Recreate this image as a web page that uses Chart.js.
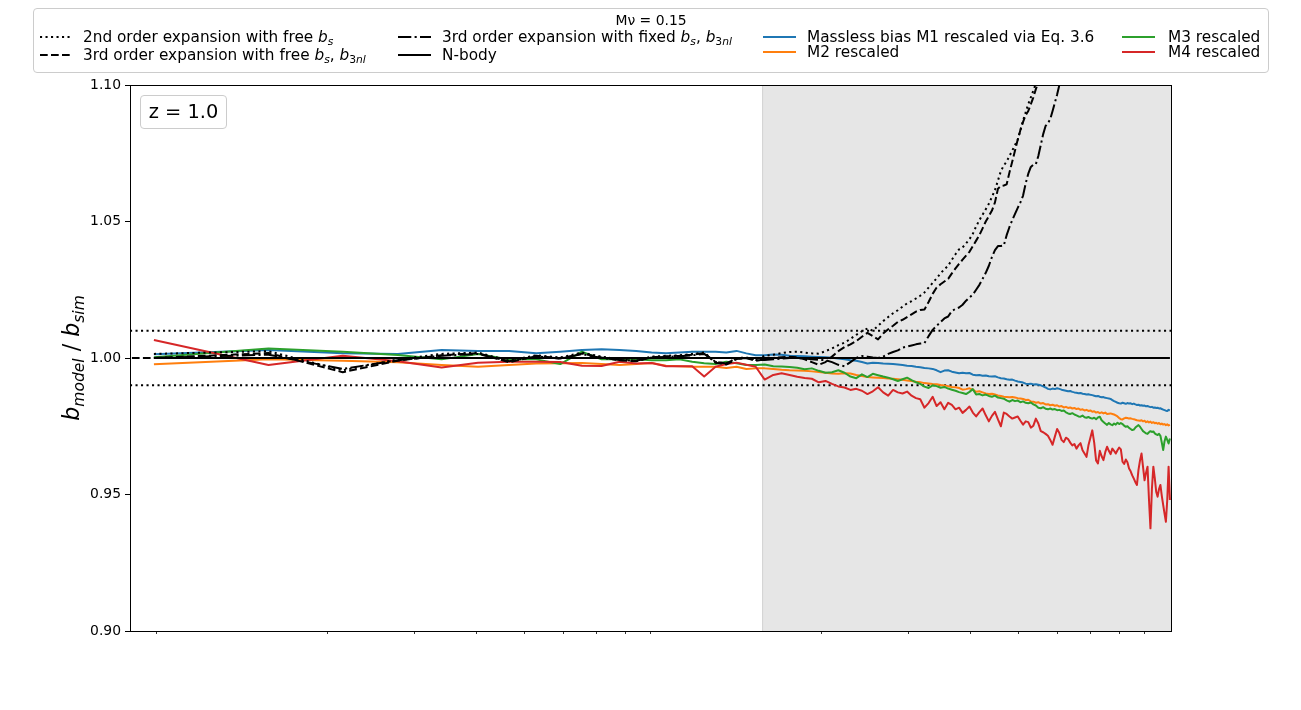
<!DOCTYPE html>
<html>
<head>
<meta charset="utf-8">
<script src="https://cdn.jsdelivr.net/npm/chart.js@4.4.1/dist/chart.umd.min.js"></script>
<style>
  html, body { margin:0; padding:0; background:#fff; }
  #wrap { position:relative; width:1301px; height:710px; overflow:hidden; font-family:"DejaVu Sans", sans-serif; color:#000; }
  #c { position:absolute; left:0; top:0; }
  .box { position:absolute; box-sizing:border-box; border:1px solid #cccccc; border-radius:4px; background:rgba(255,255,255,0.8); }
  .lg { position:absolute; white-space:nowrap; font-size:15.3px; line-height:18px; height:18px; }
  .lg sub { font-size:0.7em; vertical-align:baseline; position:relative; top:0.3em; }
  .sw { position:absolute; overflow:visible; }
</style>
</head>
<body>
<div id="wrap">
  <canvas id="c" width="1301" height="710"></canvas>
  <div class="box" style="left:33px;top:8px;width:1236px;height:65px;"></div>
  <div class="lg" style="left:33px;width:1236px;top:11px;text-align:center;font-size:13.9px;">Mν = 0.15</div>
  <div id="legendItems"></div>
  <div class="box" style="left:140px;top:95px;width:87px;height:34px;background:#fff;"></div>
  <div style="position:absolute;left:140px;top:95px;width:87px;height:34px;line-height:34px;text-align:center;font-size:19.4px;">z = 1.0</div>
</div>
<script>
// ---------------- data ----------------
// k bins [h/Mpc]
const kBins = [
0.00890,0.01518,0.02146,0.02774,0.03402,0.04030,0.04658,0.05286,0.05914,0.06542,
0.07170,0.07798,0.08426,0.09054,0.09682,0.10310,0.10938,0.11566,0.12194,0.12822,
0.13450,0.14078,0.14706,0.15334,0.15962,0.16590,0.17218,0.17846,0.18474,0.19102,
0.19730,0.20358,0.20986,0.21614,0.22242,0.22870,0.23498,0.24126,0.24754,0.25382,
0.26010,0.26638,0.27266,0.27894,0.28522,0.29150,0.29778,0.30406,0.31034,0.31662,
0.32290,0.32918,0.33546,0.34174,0.34802,0.35430,0.36058,0.36686,0.37314,0.37942,
0.38570,0.39198,0.39826,0.40454,0.41082,0.41710,0.42338,0.42966,0.43594,0.44222,
0.44850,0.45478,0.46106,0.46734,0.47362,0.47990,0.48618,0.49246,0.49874,0.50502,
0.51130,0.51758,0.52386,0.53014,0.53642,0.54270,0.54898,0.55526,0.56154,0.56782,
0.57410,0.58038,0.58666,0.59294,0.59922,0.60550,0.61178,0.61806,0.62434,0.63062,
0.63690,0.64318,0.64946,0.65574,0.66202,0.66830,0.67458,0.68086,0.68714,0.69342,
0.69970,0.70598,0.71226,0.71854,0.72482,0.73110,0.73738,0.74366,0.74994,0.75622,
0.76250,0.76878,0.77506,0.78134,0.78762,0.79390,0.80018,0.80646,0.81274,0.81902,
0.82530,0.83158,0.83786,0.84414,0.85042,0.85670,0.86298,0.86926,0.87554,0.88182,
0.88810,0.89438,0.90066,0.90694,0.91322,0.91950,0.92578,0.93206,0.93834,0.94462,
0.95090,0.95718,0.96346,0.96974,0.97602,0.98230,0.98858,0.99486,1.00114,1.00742,
1.01370];

// Massless bias M1 rescaled via Eq. 3.6
const m1Rescaled = [
1.0014,1.0029,1.0017,1.0015,1.0029,1.0026,1.0026,1.0017,1.0023,1.0029,
1.0032,1.0029,1.0026,1.0020,1.0017,1.0020,1.0023,1.0023,1.0023,1.0020,
1.0026,1.0017,1.0010,1.0010,1.0013,1.0012,1.0008,1.0007,1.0006,1.0005,
1.0004,1.0003,1.0001,0.9998,0.9995,0.9992,0.9990,0.9985,0.9980,0.9983,
0.9982,0.9980,0.9979,0.9978,0.9976,0.9974,0.9972,0.9971,0.9968,0.9966,
0.9963,0.9962,0.9960,0.9955,0.9948,0.9954,0.9955,0.9950,0.9947,0.9944,
0.9946,0.9944,0.9945,0.9939,0.9937,0.9938,0.9935,0.9936,0.9933,0.9932,
0.9933,0.9929,0.9926,0.9925,0.9922,0.9920,0.9921,0.9917,0.9914,0.9912,
0.9910,0.9906,0.9905,0.9906,0.9903,0.9904,0.9902,0.9900,0.9896,0.9892,
0.9887,0.9885,0.9888,0.9886,0.9889,0.9887,0.9884,0.9882,0.9880,0.9878,
0.9879,0.9876,0.9874,0.9873,0.9871,0.9872,0.9869,0.9868,0.9866,0.9867,
0.9865,0.9864,0.9862,0.9860,0.9861,0.9858,0.9856,0.9857,0.9854,0.9853,
0.9852,0.9850,0.9846,0.9842,0.9839,0.9836,0.9834,0.9833,0.9836,0.9834,
0.9832,0.9835,0.9833,0.9834,0.9831,0.9833,0.9830,0.9828,0.9829,0.9826,
0.9827,0.9825,0.9826,0.9823,0.9824,0.9822,0.9820,0.9821,0.9818,0.9819,
0.9817,0.9818,0.9815,0.9816,0.9813,0.9811,0.9809,0.9807,0.9806,0.9810,
0.9808];

// M2 rescaled
const m2Rescaled = [
0.9977,0.9995,0.9990,0.9984,0.9974,0.9968,0.9974,0.9980,0.9981,0.9982,
0.9978,0.9974,0.9978,0.9982,0.9972,0.9970,0.9968,0.9968,0.9968,0.9963,
0.9968,0.9960,0.9962,0.9962,0.9960,0.9957,0.9955,0.9954,0.9953,0.9951,
0.9949,0.9946,0.9943,0.9942,0.9944,0.9943,0.9938,0.9934,0.9930,0.9929,
0.9928,0.9927,0.9925,0.9924,0.9922,0.9920,0.9918,0.9916,0.9913,0.9911,
0.9908,0.9907,0.9905,0.9904,0.9901,0.9899,0.9897,0.9894,0.9893,0.9890,
0.9884,0.9886,0.9889,0.9884,0.9876,0.9878,0.9874,0.9870,0.9868,0.9869,
0.9866,0.9863,0.9861,0.9858,0.9857,0.9856,0.9857,0.9855,0.9853,0.9852,
0.9850,0.9846,0.9847,0.9841,0.9840,0.9836,0.9838,0.9833,0.9835,0.9830,
0.9831,0.9827,0.9829,0.9825,0.9827,0.9822,0.9824,0.9819,0.9821,0.9817,
0.9819,0.9815,0.9817,0.9813,0.9815,0.9810,0.9812,0.9808,0.9810,0.9806,
0.9808,0.9803,0.9805,0.9800,0.9802,0.9798,0.9801,0.9797,0.9800,0.9795,
0.9796,0.9797,0.9795,0.9793,0.9790,0.9786,0.9780,0.9776,0.9775,0.9779,
0.9781,0.9780,0.9778,0.9779,0.9777,0.9776,0.9774,0.9772,0.9771,0.9770,
0.9772,0.9768,0.9770,0.9765,0.9768,0.9764,0.9767,0.9762,0.9765,0.9761,
0.9763,0.9759,0.9762,0.9757,0.9760,0.9756,0.9758,0.9754,0.9757,0.9753,
0.9755];

// M3 rescaled
const m3Rescaled = [
1.0003,1.0035,1.0023,1.0011,0.9995,1.0015,0.9995,0.9995,0.9978,1.0023,
0.9995,0.9995,0.9995,0.9992,0.9992,0.9995,0.9986,0.9981,0.9978,0.9986,
0.9981,0.9974,0.9974,0.9976,0.9970,0.9969,0.9967,0.9964,0.9959,0.9962,
0.9953,0.9946,0.9948,0.9955,0.9946,0.9932,0.9926,0.9940,0.9930,0.9942,
0.9937,0.9932,0.9928,0.9922,0.9916,0.9922,0.9928,0.9919,0.9911,0.9905,
0.9895,0.9890,0.9900,0.9897,0.9891,0.9894,0.9888,0.9884,0.9880,0.9875,
0.9872,0.9868,0.9876,0.9886,0.9866,0.9868,0.9863,0.9866,0.9861,0.9858,
0.9862,0.9855,0.9853,0.9851,0.9845,0.9840,0.9846,0.9842,0.9844,0.9838,
0.9841,0.9836,0.9834,0.9837,0.9830,0.9826,0.9818,0.9816,0.9820,0.9814,
0.9812,0.9815,0.9811,0.9813,0.9809,0.9810,0.9806,0.9808,0.9801,0.9797,
0.9795,0.9798,0.9793,0.9790,0.9786,0.9785,0.9789,0.9783,0.9781,0.9784,
0.9780,0.9778,0.9781,0.9776,0.9782,0.9785,0.9772,0.9766,0.9760,0.9755,
0.9762,0.9757,0.9754,0.9760,0.9756,0.9763,0.9758,0.9762,0.9758,0.9752,
0.9748,0.9750,0.9744,0.9740,0.9736,0.9738,0.9745,0.9750,0.9754,0.9748,
0.9740,0.9732,0.9728,0.9724,0.9722,0.9728,0.9732,0.9729,0.9731,0.9724,
0.9720,0.9718,0.9722,0.9715,0.9690,0.9663,0.9695,0.9712,0.9700,0.9687,
0.9705];

// M4 rescaled
const m4Rescaled = [
1.0066,0.9974,1.0008,0.9988,0.9965,0.9983,0.9986,0.9986,0.9985,0.9972,
0.9971,0.9986,0.9980,0.9982,0.9970,0.9970,0.9970,0.9932,0.9968,0.9978,
0.9983,0.9975,0.9968,0.9921,0.9938,0.9944,0.9938,0.9931,0.9927,0.9924,
0.9911,0.9916,0.9905,0.9896,0.9892,0.9883,0.9887,0.9880,0.9868,0.9878,
0.9893,0.9874,0.9862,0.9883,0.9874,0.9870,0.9877,0.9862,0.9853,0.9849,
0.9818,0.9835,0.9858,0.9824,0.9838,0.9812,0.9836,0.9828,0.9812,0.9818,
0.9799,0.9810,0.9822,0.9800,0.9786,0.9802,0.9815,0.9790,0.9768,0.9788,
0.9803,0.9775,0.9750,0.9800,0.9795,0.9786,0.9778,0.9782,0.9786,0.9770,
0.9756,0.9768,0.9765,0.9745,0.9752,0.9778,0.9760,0.9732,0.9728,0.9722,
0.9715,0.9700,0.9682,0.9712,0.9740,0.9725,0.9700,0.9692,0.9708,0.9703,
0.9690,0.9680,0.9685,0.9668,0.9680,0.9688,0.9662,0.9650,0.9638,0.9680,
0.9708,0.9735,0.9690,0.9625,0.9614,0.9660,0.9640,0.9626,0.9655,0.9675,
0.9660,0.9648,0.9668,0.9660,0.9650,0.9662,0.9672,0.9665,0.9620,0.9612,
0.9628,0.9618,0.9595,0.9585,0.9570,0.9558,0.9545,0.9535,0.9590,0.9625,
0.9650,0.9600,0.9552,0.9580,0.9602,0.9480,0.9376,0.9520,0.9602,0.9560,
0.9510,0.9492,0.9520,0.9535,0.9495,0.9462,0.9430,0.9400,0.9480,0.9602,
0.9480];

// 2nd order expansion with free b_s (same k bins, until it leaves the plot)
const secondFree = [
1.0015,1.0025,0.9955,0.9995,1.0015,1.0020,0.9990,1.0010,1.0002,1.0020,
1.0005,0.9995,0.9990,1.0005,1.0008,1.0010,1.0015,1.0020,0.9985,0.9980,
1.0000,1.0002,0.9995,1.0008,1.0012,1.0018,1.0022,1.0023,1.0020,1.0017,
1.0016,1.0025,1.0035,1.0047,1.0056,1.0070,1.0085,1.0098,1.0108,1.0100,
1.0118,1.0135,1.0150,1.0164,1.0175,1.0188,1.0200,1.0208,1.0218,1.0228,
1.0240,1.0258,1.0275,1.0292,1.0310,1.0325,1.0338,1.0360,1.0380,1.0398,
1.0405,1.0420,1.0435,1.0455,1.0482,1.0505,1.0525,1.0545,1.0565,1.0590,
1.0615,1.0650,1.0685,1.0705,1.0720,1.0740,1.0760,1.0780,1.0800,1.0835,
1.0870,1.0900,1.0930,1.0955,1.0980,1.1005,1.1040,1.1080];

// 3rd order expansion with free b_s, b_3nl
const thirdFreeLeadK = 0.0026;
const thirdFreeLeadValue = 1.0000;
const thirdFree = [
1.0000,1.0018,0.9948,0.9990,1.0010,1.0018,0.9984,1.0008,0.9998,1.0016,
1.0002,0.9992,0.9988,1.0003,1.0006,1.0008,1.0012,1.0018,0.9983,0.9976,
0.9996,1.0000,0.9990,0.9995,1.0000,1.0003,1.0005,1.0003,0.9995,0.9985,
0.9975,0.9985,1.0005,1.0025,1.0040,1.0050,1.0062,1.0078,1.0092,1.0080,
1.0068,1.0090,1.0105,1.0118,1.0132,1.0140,1.0150,1.0160,1.0170,1.0176,
1.0178,1.0205,1.0235,1.0258,1.0270,1.0280,1.0290,1.0310,1.0328,1.0345,
1.0360,1.0375,1.0389,1.0410,1.0430,1.0450,1.0475,1.0500,1.0520,1.0540,
1.0570,1.0620,1.0630,1.0632,1.0636,1.0680,1.0720,1.0760,1.0800,1.0835,
1.0865,1.0890,1.0905,1.0930,1.0955,1.0985,1.1010,1.1050,1.1090];

// 3rd order expansion with fixed b_s, b_3nl
const thirdFixed = [
1.0000,1.0012,0.9960,0.9992,1.0008,1.0015,0.9988,1.0006,0.9998,1.0014,
1.0000,0.9993,0.9990,1.0002,1.0004,1.0006,1.0010,1.0015,0.9986,0.9980,
0.9998,1.0000,0.9993,0.9993,0.9995,0.9998,1.0000,1.0000,0.9998,0.9995,
0.9993,0.9992,0.9985,0.9975,0.9970,0.9985,1.0000,1.0007,1.0005,1.0002,
1.0000,1.0005,1.0015,1.0022,1.0028,1.0038,1.0042,1.0046,1.0050,1.0053,
1.0055,1.0080,1.0103,1.0118,1.0132,1.0145,1.0152,1.0172,1.0180,1.0185,
1.0195,1.0210,1.0222,1.0232,1.0250,1.0268,1.0290,1.0312,1.0338,1.0370,
1.0395,1.0410,1.0410,1.0412,1.0450,1.0480,1.0505,1.0528,1.0550,1.0570,
1.0595,1.0640,1.0675,1.0700,1.0708,1.0710,1.0740,1.0780,1.0820,1.0850,
1.0860,1.0875,1.0905,1.0935,1.0965,1.1000,1.1040,1.1080];

const nbodyValue = 1.0;
const bandUpper = 1.01;
const bandLower = 0.99;
const shadeStartK = 0.1515;

const xMin = 0.007961, xMax = 1.0188;
const yMin = 0.90, yMax = 1.10;
const yTicks = [0.90, 0.95, 1.00, 1.05, 1.10];
const xMinorTicks = [0.009, 0.02, 0.03, 0.04, 0.05, 0.06, 0.07, 0.08, 0.09,
                     0.2, 0.3, 0.4, 0.5, 0.6, 0.7, 0.8, 0.9];

// ---------------- styles ----------------
const C = { blue:'#1f77b4', orange:'#ff7f0e', green:'#2ca02c', red:'#d62728', black:'#000000' };
const DOT = [2.1, 3.4], DASH = [7.7, 3.3], DASHDOT = [13.3, 3.3, 2.1, 3.3];

const pts = (ys, ks) => ys.map((y, i) => ({ x: (ks || kBins)[i], y }));
const lineDs = (label, data, color, dash, order) => ({
  label, data, borderColor: color, backgroundColor: color, borderWidth: 2,
  borderDash: dash || [], borderCapStyle: 'butt', borderJoinStyle: 'round',
  pointRadius: 0, pointHoverRadius: 0, tension: 0, fill: false, order
});

const datasets = [
  lineDs('2nd order expansion with free b_s', pts(secondFree), C.black, DOT, 1),
  lineDs('3rd order expansion with free b_s, b_3nl',
         [{ x: thirdFreeLeadK, y: thirdFreeLeadValue }].concat(pts(thirdFree)), C.black, DASH, 2),
  lineDs('3rd order expansion with fixed b_s, b_3nl', pts(thirdFixed), C.black, DASHDOT, 3),
  lineDs('N-body', [{ x: kBins[0], y: nbodyValue }, { x: kBins[kBins.length - 1], y: nbodyValue }], C.black, null, 4),
  lineDs('M4 rescaled', pts(m4Rescaled), C.red, null, 5),
  lineDs('M3 rescaled', pts(m3Rescaled), C.green, null, 6),
  lineDs('M2 rescaled', pts(m2Rescaled), C.orange, null, 7),
  lineDs('Massless bias M1 rescaled via Eq. 3.6', pts(m1Rescaled), C.blue, null, 8),
  lineDs('+1%', [{ x: xMin, y: bandUpper }, { x: xMax, y: bandUpper }], C.black, DOT, 9),
  lineDs('-1%', [{ x: xMin, y: bandLower }, { x: xMax, y: bandLower }], C.black, DOT, 9),
];

// ---------------- plugins ----------------
const shadePlugin = {
  id: 'shade',
  beforeDatasetsDraw(chart) {
    const { ctx, chartArea: a } = chart;
    const x0 = chart.scales.x.getPixelForValue(shadeStartK);
    ctx.save();
    ctx.fillStyle = 'rgba(128,128,128,0.2)';
    ctx.fillRect(x0, a.top, a.right - x0, a.bottom - a.top);
    ctx.strokeStyle = 'rgba(128,128,128,0.2)';
    ctx.lineWidth = 1;
    ctx.beginPath(); ctx.moveTo(x0 + 0.5, a.top); ctx.lineTo(x0 + 0.5, a.bottom); ctx.stroke();
    ctx.restore();
  }
};
const framePlugin = {
  id: 'frame',
  afterDatasetsDraw(chart) {
    const { ctx, chartArea: a } = chart;
    ctx.save();
    ctx.strokeStyle = '#000'; ctx.lineWidth = 1;
    const l = Math.round(a.left) + 0.5, r = Math.round(a.right) + 0.5;
    const t = Math.round(a.top) + 0.5, b = Math.round(a.bottom) + 0.5;
    ctx.strokeRect(l, t, r - l, b - t);
    ctx.restore();
  }
};
const yTitlePlugin = {
  id: 'yTitle',
  afterDraw(chart) {
    const { ctx, chartArea: a } = chart;
    const cy = (a.top + a.bottom) / 2, cx = 72;
    const big = 22.2, small = 15.5, fam = '"DejaVu Sans"';
    const parts = [
      { t: 'b', f: `italic ${big}px ${fam}`, dy: 0 },
      { t: 'model', f: `italic ${small}px ${fam}`, dy: 4.5 },
      { t: ' / ', f: `${big}px ${fam}`, dy: 0 },
      { t: 'b', f: `italic ${big}px ${fam}`, dy: 0 },
      { t: 'sim', f: `italic ${small}px ${fam}`, dy: 4.5 },
    ];
    ctx.save();
    ctx.translate(cx, cy); ctx.rotate(-Math.PI / 2);
    let total = 0;
    parts.forEach(p => { ctx.font = p.f; p.w = ctx.measureText(p.t).width; total += p.w; });
    let x = -total / 2;
    ctx.fillStyle = '#000'; ctx.textBaseline = 'alphabetic';
    parts.forEach(p => { ctx.font = p.f; ctx.fillText(p.t, x, 7 + p.dy); x += p.w; });
    ctx.restore();
  }
};

Chart.defaults.font.family = '"DejaVu Sans", sans-serif';
Chart.defaults.color = '#000';

new Chart(document.getElementById('c'), {
  type: 'line',
  data: { datasets },
  options: {
    responsive: false, animation: false, devicePixelRatio: 1,
    layout: { padding: { left: 0, top: 85, right: 130, bottom: 0 } },
    plugins: { legend: { display: false }, tooltip: { enabled: false }, title: { display: false } },
    events: [],
    scales: {
      x: {
        type: 'logarithmic', min: xMin, max: xMax,
        afterBuildTicks: s => { s.ticks = xMinorTicks.map(v => ({ value: v })); },
        afterFit: s => { s.height = 79; },
        ticks: { display: false },
        grid: { drawOnChartArea: false, drawTicks: true, tickLength: 3, color: '#000', lineWidth: 0.8 },
        border: { display: false }
      },
      y: {
        type: 'linear', min: yMin, max: yMax,
        afterBuildTicks: s => { s.ticks = yTicks.map(v => ({ value: v })); },
        afterFit: s => { s.width = 130; },
        ticks: { font: { size: 13.9 }, color: '#000', padding: 4, callback: v => Number(v).toFixed(2) },
        grid: { drawOnChartArea: false, drawTicks: true, tickLength: 5, color: '#000', lineWidth: 1 },
        border: { display: false }
      }
    }
  },
  plugins: [shadePlugin, framePlugin, yTitlePlugin]
});

// ---------------- legend (HTML) ----------------
const sub = (t) => `<sub>${t}</sub>`;
const bs = `<i>b</i>${sub('<i>s</i>')}`, b3 = `<i>b</i>${sub('3<i>nl</i>')}`;
const legendEntries = [
  { html: `2nd order expansion with free ${bs}`, color: C.black, dash: DOT, sx: 40, tx: 83, cy: 37 },
  { html: `3rd order expansion with free ${bs}, ${b3}`, color: C.black, dash: DASH, sx: 40, tx: 83, cy: 55 },
  { html: `3rd order expansion with fixed ${bs}, ${b3}`, color: C.black, dash: DASHDOT, sx: 398, tx: 442, cy: 37 },
  { html: `N-body`, color: C.black, dash: null, sx: 398, tx: 442, cy: 55 },
  { html: `Massless bias M1 rescaled via Eq. 3.6`, color: C.blue, dash: null, sx: 763, tx: 807, cy: 37 },
  { html: `M2 rescaled`, color: C.orange, dash: null, sx: 763, tx: 807, cy: 52 },
  { html: `M3 rescaled`, color: C.green, dash: null, sx: 1122, tx: 1168, cy: 37 },
  { html: `M4 rescaled`, color: C.red, dash: null, sx: 1122, tx: 1168, cy: 52 },
];
const host = document.getElementById('legendItems');
let h = '';
legendEntries.forEach(e => {
  const da = e.dash ? ` stroke-dasharray="${e.dash.join(' ')}"` : '';
  h += `<svg class="sw" width="33" height="6" style="left:${e.sx}px;top:${e.cy - 3}px"><line x1="0" y1="3" x2="33" y2="3" stroke="${e.color}" stroke-width="2"${da}/></svg>`;
  h += `<div class="lg" style="left:${e.tx}px;top:${e.cy - 9}px">${e.html}</div>`;
});
host.innerHTML = h;
</script>
</body>
</html>
